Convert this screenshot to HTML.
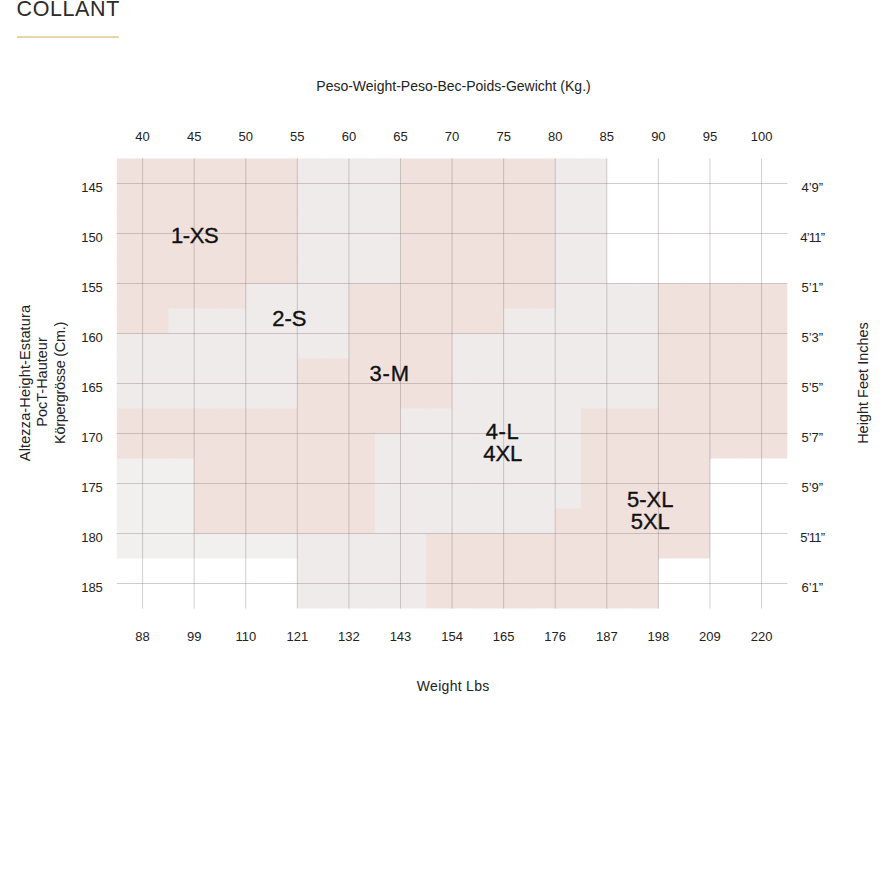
<!DOCTYPE html>
<html><head><meta charset="utf-8"><style>
html,body{margin:0;padding:0;background:#fff;}
body{width:887px;height:887px;position:relative;overflow:hidden;font-family:"Liberation Sans", sans-serif;}
.t{position:absolute;white-space:nowrap;}
.title{position:absolute;left:16.5px;top:-0.9px;font-size:21.5px;line-height:21.5px;letter-spacing:0.6px;color:#2b2b2b;}
.rule{position:absolute;left:17px;top:36px;width:102px;height:2px;background:#e6d6ac;}
.rot{position:absolute;white-space:nowrap;transform-origin:0 0;}
svg{position:absolute;left:0;top:0;}
</style></head><body>
<div class="title">COLLANT</div>
<div class="rule"></div>
<svg width="887" height="887" viewBox="0 0 887 887" >
<rect x="116.80" y="158.50" width="26.79" height="26.00" fill="#f0e1dd"/><rect x="142.59" y="158.50" width="26.79" height="26.00" fill="#f0e1dd"/><rect x="168.38" y="158.50" width="26.79" height="26.00" fill="#f0e1dd"/><rect x="194.17" y="158.50" width="26.79" height="26.00" fill="#f0e1dd"/><rect x="219.96" y="158.50" width="26.79" height="26.00" fill="#f0e1dd"/><rect x="245.75" y="158.50" width="26.79" height="26.00" fill="#f0e1dd"/><rect x="271.54" y="158.50" width="26.79" height="26.00" fill="#f0e1dd"/><rect x="297.33" y="158.50" width="26.79" height="26.00" fill="#efebea"/><rect x="323.12" y="158.50" width="26.79" height="26.00" fill="#efebea"/><rect x="348.91" y="158.50" width="26.79" height="26.00" fill="#efebea"/><rect x="374.70" y="158.50" width="26.79" height="26.00" fill="#efebea"/><rect x="400.49" y="158.50" width="26.79" height="26.00" fill="#f0e1dd"/><rect x="426.28" y="158.50" width="26.79" height="26.00" fill="#f0e1dd"/><rect x="452.07" y="158.50" width="26.79" height="26.00" fill="#f0e1dd"/><rect x="477.86" y="158.50" width="26.79" height="26.00" fill="#f0e1dd"/><rect x="503.65" y="158.50" width="26.79" height="26.00" fill="#f0e1dd"/><rect x="529.44" y="158.50" width="26.79" height="26.00" fill="#f0e1dd"/><rect x="555.23" y="158.50" width="26.79" height="26.00" fill="#efebea"/><rect x="581.02" y="158.50" width="25.79" height="26.00" fill="#efebea"/><rect x="116.80" y="183.50" width="26.79" height="26.00" fill="#f0e1dd"/><rect x="142.59" y="183.50" width="26.79" height="26.00" fill="#f0e1dd"/><rect x="168.38" y="183.50" width="26.79" height="26.00" fill="#f0e1dd"/><rect x="194.17" y="183.50" width="26.79" height="26.00" fill="#f0e1dd"/><rect x="219.96" y="183.50" width="26.79" height="26.00" fill="#f0e1dd"/><rect x="245.75" y="183.50" width="26.79" height="26.00" fill="#f0e1dd"/><rect x="271.54" y="183.50" width="26.79" height="26.00" fill="#f0e1dd"/><rect x="297.33" y="183.50" width="26.79" height="26.00" fill="#efebea"/><rect x="323.12" y="183.50" width="26.79" height="26.00" fill="#efebea"/><rect x="348.91" y="183.50" width="26.79" height="26.00" fill="#efebea"/><rect x="374.70" y="183.50" width="26.79" height="26.00" fill="#efebea"/><rect x="400.49" y="183.50" width="26.79" height="26.00" fill="#f0e1dd"/><rect x="426.28" y="183.50" width="26.79" height="26.00" fill="#f0e1dd"/><rect x="452.07" y="183.50" width="26.79" height="26.00" fill="#f0e1dd"/><rect x="477.86" y="183.50" width="26.79" height="26.00" fill="#f0e1dd"/><rect x="503.65" y="183.50" width="26.79" height="26.00" fill="#f0e1dd"/><rect x="529.44" y="183.50" width="26.79" height="26.00" fill="#f0e1dd"/><rect x="555.23" y="183.50" width="26.79" height="26.00" fill="#efebea"/><rect x="581.02" y="183.50" width="25.79" height="26.00" fill="#efebea"/><rect x="116.80" y="208.50" width="26.79" height="26.00" fill="#f0e1dd"/><rect x="142.59" y="208.50" width="26.79" height="26.00" fill="#f0e1dd"/><rect x="168.38" y="208.50" width="26.79" height="26.00" fill="#f0e1dd"/><rect x="194.17" y="208.50" width="26.79" height="26.00" fill="#f0e1dd"/><rect x="219.96" y="208.50" width="26.79" height="26.00" fill="#f0e1dd"/><rect x="245.75" y="208.50" width="26.79" height="26.00" fill="#f0e1dd"/><rect x="271.54" y="208.50" width="26.79" height="26.00" fill="#f0e1dd"/><rect x="297.33" y="208.50" width="26.79" height="26.00" fill="#efebea"/><rect x="323.12" y="208.50" width="26.79" height="26.00" fill="#efebea"/><rect x="348.91" y="208.50" width="26.79" height="26.00" fill="#efebea"/><rect x="374.70" y="208.50" width="26.79" height="26.00" fill="#efebea"/><rect x="400.49" y="208.50" width="26.79" height="26.00" fill="#f0e1dd"/><rect x="426.28" y="208.50" width="26.79" height="26.00" fill="#f0e1dd"/><rect x="452.07" y="208.50" width="26.79" height="26.00" fill="#f0e1dd"/><rect x="477.86" y="208.50" width="26.79" height="26.00" fill="#f0e1dd"/><rect x="503.65" y="208.50" width="26.79" height="26.00" fill="#f0e1dd"/><rect x="529.44" y="208.50" width="26.79" height="26.00" fill="#f0e1dd"/><rect x="555.23" y="208.50" width="26.79" height="26.00" fill="#efebea"/><rect x="581.02" y="208.50" width="25.79" height="26.00" fill="#efebea"/><rect x="116.80" y="233.50" width="26.79" height="26.00" fill="#f0e1dd"/><rect x="142.59" y="233.50" width="26.79" height="26.00" fill="#f0e1dd"/><rect x="168.38" y="233.50" width="26.79" height="26.00" fill="#f0e1dd"/><rect x="194.17" y="233.50" width="26.79" height="26.00" fill="#f0e1dd"/><rect x="219.96" y="233.50" width="26.79" height="26.00" fill="#f0e1dd"/><rect x="245.75" y="233.50" width="26.79" height="26.00" fill="#f0e1dd"/><rect x="271.54" y="233.50" width="26.79" height="26.00" fill="#f0e1dd"/><rect x="297.33" y="233.50" width="26.79" height="26.00" fill="#efebea"/><rect x="323.12" y="233.50" width="26.79" height="26.00" fill="#efebea"/><rect x="348.91" y="233.50" width="26.79" height="26.00" fill="#efebea"/><rect x="374.70" y="233.50" width="26.79" height="26.00" fill="#efebea"/><rect x="400.49" y="233.50" width="26.79" height="26.00" fill="#f0e1dd"/><rect x="426.28" y="233.50" width="26.79" height="26.00" fill="#f0e1dd"/><rect x="452.07" y="233.50" width="26.79" height="26.00" fill="#f0e1dd"/><rect x="477.86" y="233.50" width="26.79" height="26.00" fill="#f0e1dd"/><rect x="503.65" y="233.50" width="26.79" height="26.00" fill="#f0e1dd"/><rect x="529.44" y="233.50" width="26.79" height="26.00" fill="#f0e1dd"/><rect x="555.23" y="233.50" width="26.79" height="26.00" fill="#efebea"/><rect x="581.02" y="233.50" width="25.79" height="26.00" fill="#efebea"/><rect x="116.80" y="258.50" width="26.79" height="26.00" fill="#f0e1dd"/><rect x="142.59" y="258.50" width="26.79" height="26.00" fill="#f0e1dd"/><rect x="168.38" y="258.50" width="26.79" height="26.00" fill="#f0e1dd"/><rect x="194.17" y="258.50" width="26.79" height="26.00" fill="#f0e1dd"/><rect x="219.96" y="258.50" width="26.79" height="26.00" fill="#f0e1dd"/><rect x="245.75" y="258.50" width="26.79" height="26.00" fill="#f0e1dd"/><rect x="271.54" y="258.50" width="26.79" height="26.00" fill="#f0e1dd"/><rect x="297.33" y="258.50" width="26.79" height="26.00" fill="#efebea"/><rect x="323.12" y="258.50" width="26.79" height="26.00" fill="#efebea"/><rect x="348.91" y="258.50" width="26.79" height="26.00" fill="#efebea"/><rect x="374.70" y="258.50" width="26.79" height="26.00" fill="#efebea"/><rect x="400.49" y="258.50" width="26.79" height="26.00" fill="#f0e1dd"/><rect x="426.28" y="258.50" width="26.79" height="26.00" fill="#f0e1dd"/><rect x="452.07" y="258.50" width="26.79" height="26.00" fill="#f0e1dd"/><rect x="477.86" y="258.50" width="26.79" height="26.00" fill="#f0e1dd"/><rect x="503.65" y="258.50" width="26.79" height="26.00" fill="#f0e1dd"/><rect x="529.44" y="258.50" width="26.79" height="26.00" fill="#f0e1dd"/><rect x="555.23" y="258.50" width="26.79" height="26.00" fill="#efebea"/><rect x="581.02" y="258.50" width="25.79" height="26.00" fill="#efebea"/><rect x="116.80" y="283.50" width="26.79" height="26.00" fill="#f0e1dd"/><rect x="142.59" y="283.50" width="26.79" height="26.00" fill="#f0e1dd"/><rect x="168.38" y="283.50" width="26.79" height="26.00" fill="#f0e1dd"/><rect x="194.17" y="283.50" width="26.79" height="26.00" fill="#f0e1dd"/><rect x="219.96" y="283.50" width="26.79" height="26.00" fill="#f0e1dd"/><rect x="245.75" y="283.50" width="26.79" height="26.00" fill="#efebea"/><rect x="271.54" y="283.50" width="26.79" height="26.00" fill="#efebea"/><rect x="297.33" y="283.50" width="26.79" height="26.00" fill="#efebea"/><rect x="323.12" y="283.50" width="26.79" height="26.00" fill="#efebea"/><rect x="348.91" y="283.50" width="26.79" height="26.00" fill="#f0e1dd"/><rect x="374.70" y="283.50" width="26.79" height="26.00" fill="#f0e1dd"/><rect x="400.49" y="283.50" width="26.79" height="26.00" fill="#f0e1dd"/><rect x="426.28" y="283.50" width="26.79" height="26.00" fill="#f0e1dd"/><rect x="452.07" y="283.50" width="26.79" height="26.00" fill="#f0e1dd"/><rect x="477.86" y="283.50" width="26.79" height="26.00" fill="#f0e1dd"/><rect x="503.65" y="283.50" width="26.79" height="26.00" fill="#f0e1dd"/><rect x="529.44" y="283.50" width="26.79" height="26.00" fill="#f0e1dd"/><rect x="555.23" y="283.50" width="26.79" height="26.00" fill="#efebea"/><rect x="581.02" y="283.50" width="26.79" height="26.00" fill="#efebea"/><rect x="606.81" y="283.50" width="26.79" height="26.00" fill="#efebea"/><rect x="632.60" y="283.50" width="26.79" height="26.00" fill="#efebea"/><rect x="658.39" y="283.50" width="26.79" height="26.00" fill="#f0e1dd"/><rect x="684.18" y="283.50" width="26.79" height="26.00" fill="#f0e1dd"/><rect x="709.97" y="283.50" width="26.79" height="26.00" fill="#f0e1dd"/><rect x="735.76" y="283.50" width="26.79" height="26.00" fill="#f0e1dd"/><rect x="761.55" y="283.50" width="25.79" height="26.00" fill="#f0e1dd"/><rect x="116.80" y="308.50" width="26.79" height="26.00" fill="#f0e1dd"/><rect x="142.59" y="308.50" width="26.79" height="26.00" fill="#f0e1dd"/><rect x="168.38" y="308.50" width="26.79" height="26.00" fill="#efebea"/><rect x="194.17" y="308.50" width="26.79" height="26.00" fill="#efebea"/><rect x="219.96" y="308.50" width="26.79" height="26.00" fill="#efebea"/><rect x="245.75" y="308.50" width="26.79" height="26.00" fill="#efebea"/><rect x="271.54" y="308.50" width="26.79" height="26.00" fill="#efebea"/><rect x="297.33" y="308.50" width="26.79" height="26.00" fill="#efebea"/><rect x="323.12" y="308.50" width="26.79" height="26.00" fill="#efebea"/><rect x="348.91" y="308.50" width="26.79" height="26.00" fill="#f0e1dd"/><rect x="374.70" y="308.50" width="26.79" height="26.00" fill="#f0e1dd"/><rect x="400.49" y="308.50" width="26.79" height="26.00" fill="#f0e1dd"/><rect x="426.28" y="308.50" width="26.79" height="26.00" fill="#f0e1dd"/><rect x="452.07" y="308.50" width="26.79" height="26.00" fill="#f0e1dd"/><rect x="477.86" y="308.50" width="26.79" height="26.00" fill="#f0e1dd"/><rect x="503.65" y="308.50" width="26.79" height="26.00" fill="#efebea"/><rect x="529.44" y="308.50" width="26.79" height="26.00" fill="#efebea"/><rect x="555.23" y="308.50" width="26.79" height="26.00" fill="#efebea"/><rect x="581.02" y="308.50" width="26.79" height="26.00" fill="#efebea"/><rect x="606.81" y="308.50" width="26.79" height="26.00" fill="#efebea"/><rect x="632.60" y="308.50" width="26.79" height="26.00" fill="#efebea"/><rect x="658.39" y="308.50" width="26.79" height="26.00" fill="#f0e1dd"/><rect x="684.18" y="308.50" width="26.79" height="26.00" fill="#f0e1dd"/><rect x="709.97" y="308.50" width="26.79" height="26.00" fill="#f0e1dd"/><rect x="735.76" y="308.50" width="26.79" height="26.00" fill="#f0e1dd"/><rect x="761.55" y="308.50" width="25.79" height="26.00" fill="#f0e1dd"/><rect x="116.80" y="333.50" width="26.79" height="26.00" fill="#efebea"/><rect x="142.59" y="333.50" width="26.79" height="26.00" fill="#efebea"/><rect x="168.38" y="333.50" width="26.79" height="26.00" fill="#efebea"/><rect x="194.17" y="333.50" width="26.79" height="26.00" fill="#efebea"/><rect x="219.96" y="333.50" width="26.79" height="26.00" fill="#efebea"/><rect x="245.75" y="333.50" width="26.79" height="26.00" fill="#efebea"/><rect x="271.54" y="333.50" width="26.79" height="26.00" fill="#efebea"/><rect x="297.33" y="333.50" width="26.79" height="26.00" fill="#efebea"/><rect x="323.12" y="333.50" width="26.79" height="26.00" fill="#efebea"/><rect x="348.91" y="333.50" width="26.79" height="26.00" fill="#f0e1dd"/><rect x="374.70" y="333.50" width="26.79" height="26.00" fill="#f0e1dd"/><rect x="400.49" y="333.50" width="26.79" height="26.00" fill="#f0e1dd"/><rect x="426.28" y="333.50" width="26.79" height="26.00" fill="#f0e1dd"/><rect x="452.07" y="333.50" width="26.79" height="26.00" fill="#efebea"/><rect x="477.86" y="333.50" width="26.79" height="26.00" fill="#efebea"/><rect x="503.65" y="333.50" width="26.79" height="26.00" fill="#efebea"/><rect x="529.44" y="333.50" width="26.79" height="26.00" fill="#efebea"/><rect x="555.23" y="333.50" width="26.79" height="26.00" fill="#efebea"/><rect x="581.02" y="333.50" width="26.79" height="26.00" fill="#efebea"/><rect x="606.81" y="333.50" width="26.79" height="26.00" fill="#efebea"/><rect x="632.60" y="333.50" width="26.79" height="26.00" fill="#efebea"/><rect x="658.39" y="333.50" width="26.79" height="26.00" fill="#f0e1dd"/><rect x="684.18" y="333.50" width="26.79" height="26.00" fill="#f0e1dd"/><rect x="709.97" y="333.50" width="26.79" height="26.00" fill="#f0e1dd"/><rect x="735.76" y="333.50" width="26.79" height="26.00" fill="#f0e1dd"/><rect x="761.55" y="333.50" width="25.79" height="26.00" fill="#f0e1dd"/><rect x="116.80" y="358.50" width="26.79" height="26.00" fill="#efebea"/><rect x="142.59" y="358.50" width="26.79" height="26.00" fill="#efebea"/><rect x="168.38" y="358.50" width="26.79" height="26.00" fill="#efebea"/><rect x="194.17" y="358.50" width="26.79" height="26.00" fill="#efebea"/><rect x="219.96" y="358.50" width="26.79" height="26.00" fill="#efebea"/><rect x="245.75" y="358.50" width="26.79" height="26.00" fill="#efebea"/><rect x="271.54" y="358.50" width="26.79" height="26.00" fill="#efebea"/><rect x="297.33" y="358.50" width="26.79" height="26.00" fill="#f0e1dd"/><rect x="323.12" y="358.50" width="26.79" height="26.00" fill="#f0e1dd"/><rect x="348.91" y="358.50" width="26.79" height="26.00" fill="#f0e1dd"/><rect x="374.70" y="358.50" width="26.79" height="26.00" fill="#f0e1dd"/><rect x="400.49" y="358.50" width="26.79" height="26.00" fill="#f0e1dd"/><rect x="426.28" y="358.50" width="26.79" height="26.00" fill="#f0e1dd"/><rect x="452.07" y="358.50" width="26.79" height="26.00" fill="#efebea"/><rect x="477.86" y="358.50" width="26.79" height="26.00" fill="#efebea"/><rect x="503.65" y="358.50" width="26.79" height="26.00" fill="#efebea"/><rect x="529.44" y="358.50" width="26.79" height="26.00" fill="#efebea"/><rect x="555.23" y="358.50" width="26.79" height="26.00" fill="#efebea"/><rect x="581.02" y="358.50" width="26.79" height="26.00" fill="#efebea"/><rect x="606.81" y="358.50" width="26.79" height="26.00" fill="#efebea"/><rect x="632.60" y="358.50" width="26.79" height="26.00" fill="#efebea"/><rect x="658.39" y="358.50" width="26.79" height="26.00" fill="#f0e1dd"/><rect x="684.18" y="358.50" width="26.79" height="26.00" fill="#f0e1dd"/><rect x="709.97" y="358.50" width="26.79" height="26.00" fill="#f0e1dd"/><rect x="735.76" y="358.50" width="26.79" height="26.00" fill="#f0e1dd"/><rect x="761.55" y="358.50" width="25.79" height="26.00" fill="#f0e1dd"/><rect x="116.80" y="383.50" width="26.79" height="26.00" fill="#efebea"/><rect x="142.59" y="383.50" width="26.79" height="26.00" fill="#efebea"/><rect x="168.38" y="383.50" width="26.79" height="26.00" fill="#efebea"/><rect x="194.17" y="383.50" width="26.79" height="26.00" fill="#efebea"/><rect x="219.96" y="383.50" width="26.79" height="26.00" fill="#efebea"/><rect x="245.75" y="383.50" width="26.79" height="26.00" fill="#efebea"/><rect x="271.54" y="383.50" width="26.79" height="26.00" fill="#efebea"/><rect x="297.33" y="383.50" width="26.79" height="26.00" fill="#f0e1dd"/><rect x="323.12" y="383.50" width="26.79" height="26.00" fill="#f0e1dd"/><rect x="348.91" y="383.50" width="26.79" height="26.00" fill="#f0e1dd"/><rect x="374.70" y="383.50" width="26.79" height="26.00" fill="#f0e1dd"/><rect x="400.49" y="383.50" width="26.79" height="26.00" fill="#f0e1dd"/><rect x="426.28" y="383.50" width="26.79" height="26.00" fill="#f0e1dd"/><rect x="452.07" y="383.50" width="26.79" height="26.00" fill="#efebea"/><rect x="477.86" y="383.50" width="26.79" height="26.00" fill="#efebea"/><rect x="503.65" y="383.50" width="26.79" height="26.00" fill="#efebea"/><rect x="529.44" y="383.50" width="26.79" height="26.00" fill="#efebea"/><rect x="555.23" y="383.50" width="26.79" height="26.00" fill="#efebea"/><rect x="581.02" y="383.50" width="26.79" height="26.00" fill="#efebea"/><rect x="606.81" y="383.50" width="26.79" height="26.00" fill="#efebea"/><rect x="632.60" y="383.50" width="26.79" height="26.00" fill="#efebea"/><rect x="658.39" y="383.50" width="26.79" height="26.00" fill="#f0e1dd"/><rect x="684.18" y="383.50" width="26.79" height="26.00" fill="#f0e1dd"/><rect x="709.97" y="383.50" width="26.79" height="26.00" fill="#f0e1dd"/><rect x="735.76" y="383.50" width="26.79" height="26.00" fill="#f0e1dd"/><rect x="761.55" y="383.50" width="25.79" height="26.00" fill="#f0e1dd"/><rect x="116.80" y="408.50" width="26.79" height="26.00" fill="#f0e1dd"/><rect x="142.59" y="408.50" width="26.79" height="26.00" fill="#f0e1dd"/><rect x="168.38" y="408.50" width="26.79" height="26.00" fill="#f0e1dd"/><rect x="194.17" y="408.50" width="26.79" height="26.00" fill="#f0e1dd"/><rect x="219.96" y="408.50" width="26.79" height="26.00" fill="#f0e1dd"/><rect x="245.75" y="408.50" width="26.79" height="26.00" fill="#f0e1dd"/><rect x="271.54" y="408.50" width="26.79" height="26.00" fill="#f0e1dd"/><rect x="297.33" y="408.50" width="26.79" height="26.00" fill="#f0e1dd"/><rect x="323.12" y="408.50" width="26.79" height="26.00" fill="#f0e1dd"/><rect x="348.91" y="408.50" width="26.79" height="26.00" fill="#f0e1dd"/><rect x="374.70" y="408.50" width="26.79" height="26.00" fill="#f0e1dd"/><rect x="400.49" y="408.50" width="26.79" height="26.00" fill="#efebea"/><rect x="426.28" y="408.50" width="26.79" height="26.00" fill="#efebea"/><rect x="452.07" y="408.50" width="26.79" height="26.00" fill="#efebea"/><rect x="477.86" y="408.50" width="26.79" height="26.00" fill="#efebea"/><rect x="503.65" y="408.50" width="26.79" height="26.00" fill="#efebea"/><rect x="529.44" y="408.50" width="26.79" height="26.00" fill="#efebea"/><rect x="555.23" y="408.50" width="26.79" height="26.00" fill="#efebea"/><rect x="581.02" y="408.50" width="26.79" height="26.00" fill="#f0e1dd"/><rect x="606.81" y="408.50" width="26.79" height="26.00" fill="#f0e1dd"/><rect x="632.60" y="408.50" width="26.79" height="26.00" fill="#f0e1dd"/><rect x="658.39" y="408.50" width="26.79" height="26.00" fill="#f0e1dd"/><rect x="684.18" y="408.50" width="26.79" height="26.00" fill="#f0e1dd"/><rect x="709.97" y="408.50" width="26.79" height="26.00" fill="#f0e1dd"/><rect x="735.76" y="408.50" width="26.79" height="26.00" fill="#f0e1dd"/><rect x="761.55" y="408.50" width="25.79" height="26.00" fill="#f0e1dd"/><rect x="116.80" y="433.50" width="26.79" height="26.00" fill="#f0e1dd"/><rect x="142.59" y="433.50" width="26.79" height="26.00" fill="#f0e1dd"/><rect x="168.38" y="433.50" width="26.79" height="26.00" fill="#f0e1dd"/><rect x="194.17" y="433.50" width="26.79" height="26.00" fill="#f0e1dd"/><rect x="219.96" y="433.50" width="26.79" height="26.00" fill="#f0e1dd"/><rect x="245.75" y="433.50" width="26.79" height="26.00" fill="#f0e1dd"/><rect x="271.54" y="433.50" width="26.79" height="26.00" fill="#f0e1dd"/><rect x="297.33" y="433.50" width="26.79" height="26.00" fill="#f0e1dd"/><rect x="323.12" y="433.50" width="26.79" height="26.00" fill="#f0e1dd"/><rect x="348.91" y="433.50" width="26.79" height="26.00" fill="#f0e1dd"/><rect x="374.70" y="433.50" width="26.79" height="26.00" fill="#efebea"/><rect x="400.49" y="433.50" width="26.79" height="26.00" fill="#efebea"/><rect x="426.28" y="433.50" width="26.79" height="26.00" fill="#efebea"/><rect x="452.07" y="433.50" width="26.79" height="26.00" fill="#efebea"/><rect x="477.86" y="433.50" width="26.79" height="26.00" fill="#efebea"/><rect x="503.65" y="433.50" width="26.79" height="26.00" fill="#efebea"/><rect x="529.44" y="433.50" width="26.79" height="26.00" fill="#efebea"/><rect x="555.23" y="433.50" width="26.79" height="26.00" fill="#efebea"/><rect x="581.02" y="433.50" width="26.79" height="26.00" fill="#f0e1dd"/><rect x="606.81" y="433.50" width="26.79" height="26.00" fill="#f0e1dd"/><rect x="632.60" y="433.50" width="26.79" height="26.00" fill="#f0e1dd"/><rect x="658.39" y="433.50" width="26.79" height="26.00" fill="#f0e1dd"/><rect x="684.18" y="433.50" width="26.79" height="26.00" fill="#f0e1dd"/><rect x="709.97" y="433.50" width="26.79" height="25.00" fill="#f0e1dd"/><rect x="735.76" y="433.50" width="26.79" height="25.00" fill="#f0e1dd"/><rect x="761.55" y="433.50" width="25.79" height="25.00" fill="#f0e1dd"/><rect x="116.80" y="458.50" width="26.79" height="26.00" fill="#f1f0ee"/><rect x="142.59" y="458.50" width="26.79" height="26.00" fill="#f1f0ee"/><rect x="168.38" y="458.50" width="26.79" height="26.00" fill="#f1f0ee"/><rect x="194.17" y="458.50" width="26.79" height="26.00" fill="#f0e1dd"/><rect x="219.96" y="458.50" width="26.79" height="26.00" fill="#f0e1dd"/><rect x="245.75" y="458.50" width="26.79" height="26.00" fill="#f0e1dd"/><rect x="271.54" y="458.50" width="26.79" height="26.00" fill="#f0e1dd"/><rect x="297.33" y="458.50" width="26.79" height="26.00" fill="#f0e1dd"/><rect x="323.12" y="458.50" width="26.79" height="26.00" fill="#f0e1dd"/><rect x="348.91" y="458.50" width="26.79" height="26.00" fill="#f0e1dd"/><rect x="374.70" y="458.50" width="26.79" height="26.00" fill="#efebea"/><rect x="400.49" y="458.50" width="26.79" height="26.00" fill="#efebea"/><rect x="426.28" y="458.50" width="26.79" height="26.00" fill="#efebea"/><rect x="452.07" y="458.50" width="26.79" height="26.00" fill="#efebea"/><rect x="477.86" y="458.50" width="26.79" height="26.00" fill="#efebea"/><rect x="503.65" y="458.50" width="26.79" height="26.00" fill="#efebea"/><rect x="529.44" y="458.50" width="26.79" height="26.00" fill="#efebea"/><rect x="555.23" y="458.50" width="26.79" height="26.00" fill="#efebea"/><rect x="581.02" y="458.50" width="26.79" height="26.00" fill="#f0e1dd"/><rect x="606.81" y="458.50" width="26.79" height="26.00" fill="#f0e1dd"/><rect x="632.60" y="458.50" width="26.79" height="26.00" fill="#f0e1dd"/><rect x="658.39" y="458.50" width="26.79" height="26.00" fill="#f0e1dd"/><rect x="684.18" y="458.50" width="25.79" height="26.00" fill="#f0e1dd"/><rect x="116.80" y="483.50" width="26.79" height="26.00" fill="#f1f0ee"/><rect x="142.59" y="483.50" width="26.79" height="26.00" fill="#f1f0ee"/><rect x="168.38" y="483.50" width="26.79" height="26.00" fill="#f1f0ee"/><rect x="194.17" y="483.50" width="26.79" height="26.00" fill="#f0e1dd"/><rect x="219.96" y="483.50" width="26.79" height="26.00" fill="#f0e1dd"/><rect x="245.75" y="483.50" width="26.79" height="26.00" fill="#f0e1dd"/><rect x="271.54" y="483.50" width="26.79" height="26.00" fill="#f0e1dd"/><rect x="297.33" y="483.50" width="26.79" height="26.00" fill="#f0e1dd"/><rect x="323.12" y="483.50" width="26.79" height="26.00" fill="#f0e1dd"/><rect x="348.91" y="483.50" width="26.79" height="26.00" fill="#f0e1dd"/><rect x="374.70" y="483.50" width="26.79" height="26.00" fill="#efebea"/><rect x="400.49" y="483.50" width="26.79" height="26.00" fill="#efebea"/><rect x="426.28" y="483.50" width="26.79" height="26.00" fill="#efebea"/><rect x="452.07" y="483.50" width="26.79" height="26.00" fill="#efebea"/><rect x="477.86" y="483.50" width="26.79" height="26.00" fill="#efebea"/><rect x="503.65" y="483.50" width="26.79" height="26.00" fill="#efebea"/><rect x="529.44" y="483.50" width="26.79" height="26.00" fill="#efebea"/><rect x="555.23" y="483.50" width="26.79" height="26.00" fill="#efebea"/><rect x="581.02" y="483.50" width="26.79" height="26.00" fill="#f0e1dd"/><rect x="606.81" y="483.50" width="26.79" height="26.00" fill="#f0e1dd"/><rect x="632.60" y="483.50" width="26.79" height="26.00" fill="#f0e1dd"/><rect x="658.39" y="483.50" width="26.79" height="26.00" fill="#f0e1dd"/><rect x="684.18" y="483.50" width="25.79" height="26.00" fill="#f0e1dd"/><rect x="116.80" y="508.50" width="26.79" height="26.00" fill="#f1f0ee"/><rect x="142.59" y="508.50" width="26.79" height="26.00" fill="#f1f0ee"/><rect x="168.38" y="508.50" width="26.79" height="26.00" fill="#f1f0ee"/><rect x="194.17" y="508.50" width="26.79" height="26.00" fill="#f0e1dd"/><rect x="219.96" y="508.50" width="26.79" height="26.00" fill="#f0e1dd"/><rect x="245.75" y="508.50" width="26.79" height="26.00" fill="#f0e1dd"/><rect x="271.54" y="508.50" width="26.79" height="26.00" fill="#f0e1dd"/><rect x="297.33" y="508.50" width="26.79" height="26.00" fill="#f0e1dd"/><rect x="323.12" y="508.50" width="26.79" height="26.00" fill="#f0e1dd"/><rect x="348.91" y="508.50" width="26.79" height="26.00" fill="#f0e1dd"/><rect x="374.70" y="508.50" width="26.79" height="26.00" fill="#efebea"/><rect x="400.49" y="508.50" width="26.79" height="26.00" fill="#efebea"/><rect x="426.28" y="508.50" width="26.79" height="26.00" fill="#efebea"/><rect x="452.07" y="508.50" width="26.79" height="26.00" fill="#efebea"/><rect x="477.86" y="508.50" width="26.79" height="26.00" fill="#efebea"/><rect x="503.65" y="508.50" width="26.79" height="26.00" fill="#efebea"/><rect x="529.44" y="508.50" width="26.79" height="26.00" fill="#efebea"/><rect x="555.23" y="508.50" width="26.79" height="26.00" fill="#f0e1dd"/><rect x="581.02" y="508.50" width="26.79" height="26.00" fill="#f0e1dd"/><rect x="606.81" y="508.50" width="26.79" height="26.00" fill="#f0e1dd"/><rect x="632.60" y="508.50" width="26.79" height="26.00" fill="#f0e1dd"/><rect x="658.39" y="508.50" width="26.79" height="26.00" fill="#f0e1dd"/><rect x="684.18" y="508.50" width="25.79" height="26.00" fill="#f0e1dd"/><rect x="116.80" y="533.50" width="26.79" height="25.00" fill="#f1f0ee"/><rect x="142.59" y="533.50" width="26.79" height="25.00" fill="#f1f0ee"/><rect x="168.38" y="533.50" width="26.79" height="25.00" fill="#f1f0ee"/><rect x="194.17" y="533.50" width="26.79" height="25.00" fill="#f1f0ee"/><rect x="219.96" y="533.50" width="26.79" height="25.00" fill="#f1f0ee"/><rect x="245.75" y="533.50" width="26.79" height="25.00" fill="#f1f0ee"/><rect x="271.54" y="533.50" width="26.79" height="25.00" fill="#f1f0ee"/><rect x="297.33" y="533.50" width="26.79" height="26.00" fill="#efebea"/><rect x="323.12" y="533.50" width="26.79" height="26.00" fill="#efebea"/><rect x="348.91" y="533.50" width="26.79" height="26.00" fill="#efebea"/><rect x="374.70" y="533.50" width="26.79" height="26.00" fill="#efebea"/><rect x="400.49" y="533.50" width="26.79" height="26.00" fill="#efebea"/><rect x="426.28" y="533.50" width="26.79" height="26.00" fill="#f0e1dd"/><rect x="452.07" y="533.50" width="26.79" height="26.00" fill="#f0e1dd"/><rect x="477.86" y="533.50" width="26.79" height="26.00" fill="#f0e1dd"/><rect x="503.65" y="533.50" width="26.79" height="26.00" fill="#f0e1dd"/><rect x="529.44" y="533.50" width="26.79" height="26.00" fill="#f0e1dd"/><rect x="555.23" y="533.50" width="26.79" height="26.00" fill="#f0e1dd"/><rect x="581.02" y="533.50" width="26.79" height="26.00" fill="#f0e1dd"/><rect x="606.81" y="533.50" width="26.79" height="26.00" fill="#f0e1dd"/><rect x="632.60" y="533.50" width="26.79" height="26.00" fill="#f0e1dd"/><rect x="658.39" y="533.50" width="26.79" height="25.00" fill="#f0e1dd"/><rect x="684.18" y="533.50" width="25.79" height="25.00" fill="#f0e1dd"/><rect x="297.33" y="558.50" width="26.79" height="26.00" fill="#efebea"/><rect x="323.12" y="558.50" width="26.79" height="26.00" fill="#efebea"/><rect x="348.91" y="558.50" width="26.79" height="26.00" fill="#efebea"/><rect x="374.70" y="558.50" width="26.79" height="26.00" fill="#efebea"/><rect x="400.49" y="558.50" width="26.79" height="26.00" fill="#efebea"/><rect x="426.28" y="558.50" width="26.79" height="26.00" fill="#f0e1dd"/><rect x="452.07" y="558.50" width="26.79" height="26.00" fill="#f0e1dd"/><rect x="477.86" y="558.50" width="26.79" height="26.00" fill="#f0e1dd"/><rect x="503.65" y="558.50" width="26.79" height="26.00" fill="#f0e1dd"/><rect x="529.44" y="558.50" width="26.79" height="26.00" fill="#f0e1dd"/><rect x="555.23" y="558.50" width="26.79" height="26.00" fill="#f0e1dd"/><rect x="581.02" y="558.50" width="26.79" height="26.00" fill="#f0e1dd"/><rect x="606.81" y="558.50" width="26.79" height="26.00" fill="#f0e1dd"/><rect x="632.60" y="558.50" width="25.79" height="26.00" fill="#f0e1dd"/><rect x="297.33" y="583.50" width="26.79" height="25.00" fill="#efebea"/><rect x="323.12" y="583.50" width="26.79" height="25.00" fill="#efebea"/><rect x="348.91" y="583.50" width="26.79" height="25.00" fill="#efebea"/><rect x="374.70" y="583.50" width="26.79" height="25.00" fill="#efebea"/><rect x="400.49" y="583.50" width="26.79" height="25.00" fill="#efebea"/><rect x="426.28" y="583.50" width="26.79" height="25.00" fill="#f0e1dd"/><rect x="452.07" y="583.50" width="26.79" height="25.00" fill="#f0e1dd"/><rect x="477.86" y="583.50" width="26.79" height="25.00" fill="#f0e1dd"/><rect x="503.65" y="583.50" width="26.79" height="25.00" fill="#f0e1dd"/><rect x="529.44" y="583.50" width="26.79" height="25.00" fill="#f0e1dd"/><rect x="555.23" y="583.50" width="26.79" height="25.00" fill="#f0e1dd"/><rect x="581.02" y="583.50" width="26.79" height="25.00" fill="#f0e1dd"/><rect x="606.81" y="583.50" width="26.79" height="25.00" fill="#f0e1dd"/><rect x="632.60" y="583.50" width="25.79" height="25.00" fill="#f0e1dd"/>
<g stroke="#857878" stroke-width="1" fill="none" stroke-opacity="0.36"><line x1="142.59" y1="158.5" x2="142.59" y2="608.5" /><line x1="194.17000000000002" y1="158.5" x2="194.17000000000002" y2="608.5" /><line x1="245.75" y1="158.5" x2="245.75" y2="608.5" /><line x1="297.33000000000004" y1="158.5" x2="297.33000000000004" y2="608.5" /><line x1="348.90999999999997" y1="158.5" x2="348.90999999999997" y2="608.5" /><line x1="400.49" y1="158.5" x2="400.49" y2="608.5" /><line x1="452.07000000000005" y1="158.5" x2="452.07000000000005" y2="608.5" /><line x1="503.65" y1="158.5" x2="503.65" y2="608.5" /><line x1="555.23" y1="158.5" x2="555.23" y2="608.5" /><line x1="606.81" y1="158.5" x2="606.81" y2="608.5" /><line x1="658.39" y1="158.5" x2="658.39" y2="608.5" /><line x1="709.97" y1="158.5" x2="709.97" y2="608.5" /><line x1="761.5500000000001" y1="158.5" x2="761.5500000000001" y2="608.5" /><line x1="116.8" y1="183.5" x2="787.3399999999999" y2="183.5" /><line x1="116.8" y1="233.5" x2="787.3399999999999" y2="233.5" /><line x1="116.8" y1="283.5" x2="787.3399999999999" y2="283.5" /><line x1="116.8" y1="333.5" x2="787.3399999999999" y2="333.5" /><line x1="116.8" y1="383.5" x2="787.3399999999999" y2="383.5" /><line x1="116.8" y1="433.5" x2="787.3399999999999" y2="433.5" /><line x1="116.8" y1="483.5" x2="787.3399999999999" y2="483.5" /><line x1="116.8" y1="533.5" x2="787.3399999999999" y2="533.5" /><line x1="116.8" y1="583.5" x2="787.3399999999999" y2="583.5" /></g>
</svg>
<div class="t" style="left:142.59px;top:130.40px;font-size:13px;line-height:13px;color:#222;transform:translateX(-50%);">40</div><div class="t" style="left:194.17px;top:130.40px;font-size:13px;line-height:13px;color:#222;transform:translateX(-50%);">45</div><div class="t" style="left:245.75px;top:130.40px;font-size:13px;line-height:13px;color:#222;transform:translateX(-50%);">50</div><div class="t" style="left:297.33px;top:130.40px;font-size:13px;line-height:13px;color:#222;transform:translateX(-50%);">55</div><div class="t" style="left:348.91px;top:130.40px;font-size:13px;line-height:13px;color:#222;transform:translateX(-50%);">60</div><div class="t" style="left:400.49px;top:130.40px;font-size:13px;line-height:13px;color:#222;transform:translateX(-50%);">65</div><div class="t" style="left:452.07px;top:130.40px;font-size:13px;line-height:13px;color:#222;transform:translateX(-50%);">70</div><div class="t" style="left:503.65px;top:130.40px;font-size:13px;line-height:13px;color:#222;transform:translateX(-50%);">75</div><div class="t" style="left:555.23px;top:130.40px;font-size:13px;line-height:13px;color:#222;transform:translateX(-50%);">80</div><div class="t" style="left:606.81px;top:130.40px;font-size:13px;line-height:13px;color:#222;transform:translateX(-50%);">85</div><div class="t" style="left:658.39px;top:130.40px;font-size:13px;line-height:13px;color:#222;transform:translateX(-50%);">90</div><div class="t" style="left:709.97px;top:130.40px;font-size:13px;line-height:13px;color:#222;transform:translateX(-50%);">95</div><div class="t" style="left:761.55px;top:130.40px;font-size:13px;line-height:13px;color:#222;transform:translateX(-50%);">100</div><div class="t" style="left:142.59px;top:630.30px;font-size:13px;line-height:13px;color:#222;transform:translateX(-50%);">88</div><div class="t" style="left:194.17px;top:630.30px;font-size:13px;line-height:13px;color:#222;transform:translateX(-50%);">99</div><div class="t" style="left:245.75px;top:630.30px;font-size:13px;line-height:13px;color:#222;transform:translateX(-50%);">110</div><div class="t" style="left:297.33px;top:630.30px;font-size:13px;line-height:13px;color:#222;transform:translateX(-50%);">121</div><div class="t" style="left:348.91px;top:630.30px;font-size:13px;line-height:13px;color:#222;transform:translateX(-50%);">132</div><div class="t" style="left:400.49px;top:630.30px;font-size:13px;line-height:13px;color:#222;transform:translateX(-50%);">143</div><div class="t" style="left:452.07px;top:630.30px;font-size:13px;line-height:13px;color:#222;transform:translateX(-50%);">154</div><div class="t" style="left:503.65px;top:630.30px;font-size:13px;line-height:13px;color:#222;transform:translateX(-50%);">165</div><div class="t" style="left:555.23px;top:630.30px;font-size:13px;line-height:13px;color:#222;transform:translateX(-50%);">176</div><div class="t" style="left:606.81px;top:630.30px;font-size:13px;line-height:13px;color:#222;transform:translateX(-50%);">187</div><div class="t" style="left:658.39px;top:630.30px;font-size:13px;line-height:13px;color:#222;transform:translateX(-50%);">198</div><div class="t" style="left:709.97px;top:630.30px;font-size:13px;line-height:13px;color:#222;transform:translateX(-50%);">209</div><div class="t" style="left:761.55px;top:630.30px;font-size:13px;line-height:13px;color:#222;transform:translateX(-50%);">220</div><div class="t" style="left:92.00px;top:180.50px;font-size:13px;line-height:13px;color:#222;transform:translateX(-50%);">145</div><div class="t" style="left:92.00px;top:230.50px;font-size:13px;line-height:13px;color:#222;transform:translateX(-50%);">150</div><div class="t" style="left:92.00px;top:280.50px;font-size:13px;line-height:13px;color:#222;transform:translateX(-50%);">155</div><div class="t" style="left:92.00px;top:330.50px;font-size:13px;line-height:13px;color:#222;transform:translateX(-50%);">160</div><div class="t" style="left:92.00px;top:380.50px;font-size:13px;line-height:13px;color:#222;transform:translateX(-50%);">165</div><div class="t" style="left:92.00px;top:430.50px;font-size:13px;line-height:13px;color:#222;transform:translateX(-50%);">170</div><div class="t" style="left:92.00px;top:480.50px;font-size:13px;line-height:13px;color:#222;transform:translateX(-50%);">175</div><div class="t" style="left:92.00px;top:530.50px;font-size:13px;line-height:13px;color:#222;transform:translateX(-50%);">180</div><div class="t" style="left:92.00px;top:580.50px;font-size:13px;line-height:13px;color:#222;transform:translateX(-50%);">185</div><div class="t" style="left:812.30px;top:180.60px;font-size:13px;line-height:13px;color:#222;transform:translateX(-50%);">4&#8217;9&#8221;</div><div class="t" style="left:812.30px;top:230.60px;font-size:13px;line-height:13px;color:#222;transform:translateX(-50%);letter-spacing:-0.8px;">4&#8217;11&#8221;</div><div class="t" style="left:812.30px;top:280.60px;font-size:13px;line-height:13px;color:#222;transform:translateX(-50%);">5&#8217;1&#8221;</div><div class="t" style="left:812.30px;top:330.60px;font-size:13px;line-height:13px;color:#222;transform:translateX(-50%);">5&#8217;3&#8221;</div><div class="t" style="left:812.30px;top:380.60px;font-size:13px;line-height:13px;color:#222;transform:translateX(-50%);">5&#8217;5&#8221;</div><div class="t" style="left:812.30px;top:430.60px;font-size:13px;line-height:13px;color:#222;transform:translateX(-50%);">5&#8217;7&#8221;</div><div class="t" style="left:812.30px;top:480.60px;font-size:13px;line-height:13px;color:#222;transform:translateX(-50%);">5&#8217;9&#8221;</div><div class="t" style="left:812.30px;top:530.60px;font-size:13px;line-height:13px;color:#222;transform:translateX(-50%);letter-spacing:-0.8px;">5&#8217;11&#8221;</div><div class="t" style="left:812.30px;top:580.60px;font-size:13px;line-height:13px;color:#222;transform:translateX(-50%);">6&#8217;1&#8221;</div><div class="t" style="left:453.50px;top:78.75px;font-size:14px;line-height:14px;color:#222;transform:translateX(-50%);">Peso-Weight-Peso-Bec-Poids-Gewicht (Kg.)</div><div class="t" style="left:453.20px;top:678.85px;font-size:14px;line-height:14px;color:#222;transform:translateX(-50%);letter-spacing:0.3px;">Weight Lbs</div><div class="t" style="left:194.55px;top:225.18px;font-size:22px;line-height:22px;color:#111;transform:translateX(-50%);-webkit-text-stroke:0.35px #111;letter-spacing:-0.4px;">1-XS</div><div class="t" style="left:289.40px;top:308.18px;font-size:22px;line-height:22px;color:#111;transform:translateX(-50%);-webkit-text-stroke:0.35px #111;">2-S</div><div class="t" style="left:389.70px;top:363.38px;font-size:22px;line-height:22px;color:#111;transform:translateX(-50%);-webkit-text-stroke:0.35px #111;letter-spacing:0.8px;">3-M</div><div class="t" style="left:502.55px;top:421.38px;font-size:22px;line-height:22px;color:#111;transform:translateX(-50%);-webkit-text-stroke:0.35px #111;letter-spacing:0.6px;">4-L</div><div class="t" style="left:502.75px;top:443.08px;font-size:22px;line-height:22px;color:#111;transform:translateX(-50%);-webkit-text-stroke:0.35px #111;">4XL</div><div class="t" style="left:650.20px;top:489.18px;font-size:22px;line-height:22px;color:#111;transform:translateX(-50%);-webkit-text-stroke:0.35px #111;">5-XL</div><div class="t" style="left:650.25px;top:511.28px;font-size:22px;line-height:22px;color:#111;transform:translateX(-50%);-webkit-text-stroke:0.35px #111;">5XL</div>
<div class="rot" style="left:18.48px;top:383.35px;font-size:14.5px;line-height:14.5px;color:#222;transform:rotate(-90deg) translateX(-50%);letter-spacing:0.14px;">Altezza-Height-Estatura</div><div class="rot" style="left:35.23px;top:382.05px;font-size:14.5px;line-height:14.5px;color:#222;transform:rotate(-90deg) translateX(-50%);">PocT-Hauteur</div><div class="rot" style="left:52.53px;top:383.35px;font-size:14.5px;line-height:14.5px;color:#222;transform:rotate(-90deg) translateX(-50%);letter-spacing:-0.3px;">K&#246;rpergr&#246;sse (Cm.)</div><div class="rot" style="left:856.43px;top:382.70px;font-size:14.5px;line-height:14.5px;color:#222;transform:rotate(-90deg) translateX(-50%);">Height Feet Inches</div>
</body></html>
